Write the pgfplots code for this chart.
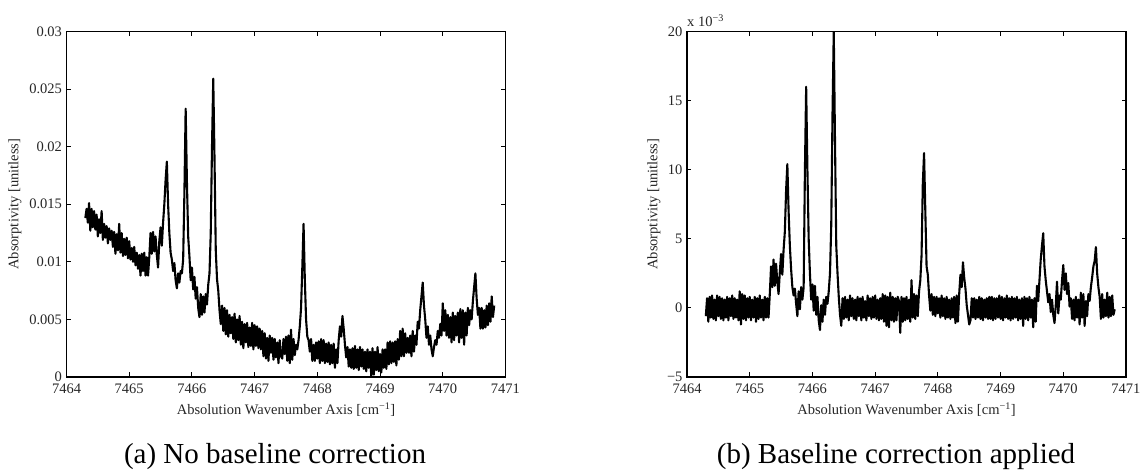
\documentclass[border=0pt]{standalone}
\usepackage{pgfplots}
\usepackage{pgfplotstable}
\usepackage{fontspec}
\setmainfont{Liberation Serif}
\pgfplotsset{compat=1.18}
\pgfplotstableread{
x a b
7464.30 .0138 -.6
7464.32 .0146 .7
7464.34 .0134 -1.0
7464.36 .0151 .8
7464.38 .0127 -.7
7464.40 .0146 .9
7464.42 .0130 -.8
7464.44 .0144 .6
7464.46 .0128 -.9
7464.48 .0141 .9
7464.50 .0122 -.6
7464.52 .0137 .8
7464.54 .0125 -.8
7464.56 .0144 .7
7464.58 .0119 -.9
7464.60 .0133 .6
7464.62 .0121 -.7
7464.64 .0131 .8
7464.66 .0116 -.9
7464.68 .0129 .7
7464.70 .0119 -.6
7464.72 .0127 .9
7464.74 .0113 -.8
7464.76 .0126 .7
7464.78 .0107 -.7
7464.80 .0124 .6
7464.82 .0110 -.9
7464.84 .0133 1.2
7464.86 .0108 -1.2
7464.88 .0125 1.0
7464.90 .0105 -.8
7464.92 .0120 .9
7464.94 .0106 -.9
7464.96 .0121 .7
7464.98 .0103 -.7
7465.00 .0118 .8
7465.02 .0102 -.9
7465.04 .0112 .6
7465.06 .0100 -.7
7465.08 .0113 .8
7465.10 .0097 -1.0
7465.12 .0108 .7
7465.14 .0094 -.8
7465.16 .0106 .9
7465.18 .0088 -.7
7465.20 .0107 .6
7465.22 .0092 -.9
7465.24 .0108 .8
7465.26 .0088 -.7
7465.28 .0104 .7
7465.30 .0088 -.7
7465.32 .0104 1.0
7465.34 .0125 3.0
7465.36 .0107 1.5
7465.38 .0126 3.5
7465.40 .0109 1.6
7465.42 .0122 3.2
7465.44 .0106 1.9
7465.46 .0095 1.0
7465.48 .0118 2.6
7465.50 .0130 3.9
7465.52 .0114 2.4
7465.54 .0134 4.2
7465.56 .0150 5.5
7465.58 .0171 8.5
7465.60 .0187 10.4
7465.62 .0150 7.0
7465.64 .0125 4.5
7465.66 .0108 2.8
7465.68 .0102 1.5
7465.70 .0092 .9
7465.72 .0099 1.4
7465.74 .0084 .3
7465.76 .0077 -.6
7465.78 .0090 1.2
7465.80 .0082 -.1
7465.82 .0092 1.5
7465.84 .0090 .6
7465.86 .0102 1.5
7465.88 .0160 9.9
7465.90 .0233 16
7465.92 .0170 10
7465.94 .0122 5
7465.96 .0105 2.5
7465.98 .0084 .6
7466.00 .0095 1.7
7466.02 .0076 -.2
7466.04 .0087 1.6
7466.06 .0068 -.5
7466.08 .0078 .8
7466.10 .0060 -.9
7466.12 .0052 -1.6
7466.14 .0072 .2
7466.16 .0054 -1.0
7466.18 .0070 .6
7466.20 .0056 -.5
7466.22 .0072 .8
7466.24 .0063 .3
7466.26 .0080 1.2
7466.28 .0090 2.5
7466.30 .0125 6
7466.32 .0200 14
7466.34 .0259 20
7466.36 .0190 12
7466.38 .0110 4.5
7466.40 .0085 2.5
7466.42 .0075 .8
7466.44 .0058 -.5
7466.46 .0046 -1.3
7466.48 .0062 .7
7466.50 .0040 -.8
7466.52 .0060 .8
7466.54 .0037 -.7
7466.56 .0058 .6
7466.58 .0035 -.9
7466.60 .0054 .9
7466.62 .0038 -.6
7466.64 .0052 .7
7466.66 .0033 -.8
7466.68 .0055 .6
7466.70 .0030 -.9
7466.72 .0050 .8
7466.74 .0032 -.6
7466.76 .0053 .7
7466.78 .0028 -.9
7466.80 .0048 .8
7466.82 .0025 -.7
7466.84 .0046 .5
7466.86 .0030 -.9
7466.88 .0047 .9
7466.90 .0026 -.6
7466.92 .0043 .7
7466.94 .0027 -.8
7466.96 .0047 .8
7466.98 .0024 -.7
7467.00 .0045 .9
7467.02 .0027 -.8
7467.04 .0044 .6
7467.06 .0025 -.9
7467.08 .0042 .7
7467.10 .0024 -.8
7467.12 .0040 1.0
7467.14 .0018 -1.0
7467.16 .0038 .9
7467.18 .0016 -1.3
7467.20 .0034 .8
7467.22 .0014 -1.4
7467.24 .0036 1.1
7467.26 .0021 -.9
7467.28 .0034 .8
7467.30 .0015 -1.0
7467.32 .0033 .7
7467.34 .0017 -.9
7467.36 .0030 .8
7467.38 .0012 .5
7467.40 .0032 -1.8
7467.42 .0018 .8
7467.44 .0016 -1.0
7467.46 .0033 .7
7467.48 .0020 -.9
7467.50 .0035 .8
7467.52 .0014 -.8
7467.54 .0036 .6
7467.56 .0012 -1.0
7467.58 .0041 2.0
7467.60 .0015 -.7
7467.62 .0033 1.0
7467.64 .0019 -.8
7467.66 .0028 .9
7467.68 .0024 -.6
7467.70 .0032 1.2
7467.72 .0044 2.0
7467.74 .0060 3.8
7467.76 .0095 9
7467.78 .0133 11.2
7467.80 .0085 7
7467.82 .0050 3.0
7467.84 .0035 2.4
7467.86 .0032 .9
7467.88 .0022 -.2
7467.90 .0033 1.0
7467.92 .0014 -.5
7467.94 .0028 .8
7467.96 .0014 -.6
7467.98 .0030 .8
7468.00 .0016 -.4
7468.02 .0031 .7
7468.04 .0012 -.7
7468.06 .0033 .9
7468.08 .0014 -.6
7468.10 .0032 .7
7468.12 .0012 -.8
7468.14 .0029 .8
7468.16 .0013 -.7
7468.18 .0030 .6
7468.20 .0011 -.8
7468.22 .0028 .7
7468.24 .0012 -.7
7468.26 .0029 .8
7468.28 .0008 -1.1
7468.30 .0024 .9
7468.32 .0012 -1.0
7468.34 .0032 1.0
7468.36 .0044 2.4
7468.38 .0035 1.5
7468.40 .0053 3.3
7468.42 .0042 2.2
7468.44 .0028 1.4
7468.46 .0017 .2
7468.48 .0026 -.5
7468.50 .0009 -1.2
7468.52 .0024 -.9
7468.54 .0008 .7
7468.56 .0025 -.7
7468.58 .0007 .7
7468.60 .0027 -.8
7468.62 .0008 .6
7468.64 .0024 -.7
7468.66 .0006 .8
7468.68 .0026 -.8
7468.70 .0009 .7
7468.72 .0024 -.9
7468.74 .0007 .6
7468.76 .0022 -.7
7468.78 .0005 .7
7468.80 .0024 -.8
7468.82 .0008 .8
7468.84 .0022 -.8
7468.86 .0000 .8
7468.88 .0025 -.9
7468.90 .0002 .7
7468.92 .0022 -.8
7468.94 .0006 .7
7468.96 .0026 -.7
7468.98 .0005 .9
7469.00 .0020 -.8
7469.02 .0004 .8
7469.04 .0024 -.9
7469.06 .0008 .7
7469.08 .0024 -.7
7469.10 .0007 .9
7469.12 .0030 -.8
7469.14 .0011 .7
7469.16 .0031 -.9
7469.18 .0012 .8
7469.20 .0030 -.8
7469.22 .0013 .7
7469.24 .0031 -.7
7469.26 .0010 .8
7469.28 .0033 -.9
7469.30 .0015 .6
7469.32 .0040 -.8
7469.34 .0018 .7
7469.36 .0042 -1.3
7469.38 .0018 .8
7469.40 .0038 -.8
7469.42 .0021 .7
7469.44 .0034 -.9
7469.46 .0021 .8
7469.48 .0036 -.7
7469.50 .0018 .6
7469.52 .0040 -1.4
7469.54 .0022 .7
7469.56 .0036 -1.0
7469.58 .0028 1.6
7469.60 .0048 .5
7469.62 .0042 2.0
7469.64 .0058 3.5
7469.66 .0070 4.5
7469.68 .0082 5.4
7469.70 .0062 3.0
7469.72 .0050 2.0
7469.74 .0034 1.2
7469.76 .0044 .4
7469.78 .0028 1.0
7469.80 .0036 -.3
7469.82 .0024 .6
7469.84 .0018 -.5
7469.86 .0026 -1.1
7469.88 .0032 .2
7469.90 .0028 1.9
7469.92 .0040 -.4
7469.94 .0034 .9
7469.96 .0046 .6
7469.98 .0036 2.0
7470.00 .0064 3.1
7470.02 .0040 1.3
7470.04 .0058 2.5
7470.06 .0036 1.0
7470.08 .0054 1.8
7470.10 .0034 .1
7470.12 .0052 .7
7470.14 .0030 -.8
7470.16 .0056 .6
7470.18 .0032 -.9
7470.20 .0053 .8
7470.22 .0036 -.7
7470.24 .0056 .6
7470.26 .0030 -1.2
7470.28 .0059 1.1
7470.30 .0034 -.7
7470.32 .0058 1.0
7470.34 .0028 -1.3
7470.36 .0056 .5
7470.38 .0036 -.6
7470.40 .0060 1.0
7470.42 .0045 .5
7470.44 .0058 1.5
7470.46 .0050 2.2
7470.48 .0066 3.0
7470.50 .0078 3.4
7470.52 .0090 4.4
7470.54 .0068 2.5
7470.56 .0054 1.5
7470.58 .0060 .8
7470.60 .0042 -.8
7470.62 .0060 1.0
7470.64 .0042 -.7
7470.66 .0058 .6
7470.68 .0043 -.6
7470.70 .0062 1.1
7470.72 .0045 -.7
7470.74 .0064 .8
7470.76 .0048 -.6
7470.78 .0070 .9
7470.80 .0052 -.5
7470.82 .0062 -.1
}\spectra
\pgfplotsset{spec/.style={
  scale only axis, width=439pt, height=345.5pt,
  xmin=7464, xmax=7471,
  xtick={7464,...,7471},
  xticklabels={7464,7465,7466,7467,7468,7469,7470,7471},
  scaled ticks=false,
  tick align=inside, tick pos=both,
  major tick length=4.5pt,
  axis line style={line width=1.6pt},
  tick style={line width=1pt,black},
  tick label style={font=\fontsize{14.5}{14.5}\selectfont,text=black!85},
  xticklabel style={yshift=-3pt},
  yticklabel style={xshift=-1pt},
  xlabel={Absolution Wavenumber Axis [cm\textsuperscript{−1}]},
  ylabel={Absorptivity [unitless]},
  label style={font=\fontsize{14.5}{14.5}\selectfont,text=black!85},
  xlabel style={at={(axis description cs:0.5,0)},anchor=base,yshift=-38pt},
  clip=true,
}}
\begin{document}
\begin{tikzpicture}
\path[use as bounding box] (0,0) rectangle (1140pt,470pt);
\begin{axis}[spec, at={(66.5pt,93pt)}, anchor=south west,
  ymin=0, ymax=0.03,
  ytick={0,0.005,0.01,0.015,0.02,0.025,0.03},
  yticklabels={0,0.005,0.01,0.015,0.02,0.025,0.03},
  ylabel style={at={(axis description cs:-0.1173,0.5)},anchor=center}]
\addplot[black,line width=2.1pt,line join=round] table[x=x,y=a] {\spectra};
\end{axis}
\begin{axis}[spec, at={(687pt,93pt)}, anchor=south west,
  ymin=-5, ymax=20,
  ytick={-5,0,5,10,15,20},
  yticklabels={−5,0,5,10,15,20},
  ylabel style={at={(axis description cs:-0.0752,0.5)},anchor=center}]
\addplot[black,line width=2.1pt,line join=round] table[x=x,y=b] {\spectra};
\end{axis}
\node[anchor=base west,font=\fontsize{14.5}{14.5}\selectfont,text=black!85,inner sep=0pt] at (687pt,443.5pt) {x 10\textsuperscript{−3}};
\node[anchor=base,inner sep=0pt,font=\fontsize{29}{29}\selectfont] at (275pt,6pt) {(a) No baseline correction};
\node[anchor=base,inner sep=0pt,font=\fontsize{29}{29}\selectfont] at (896pt,6pt) {(b) Baseline correction applied};
\end{tikzpicture}
\end{document}
